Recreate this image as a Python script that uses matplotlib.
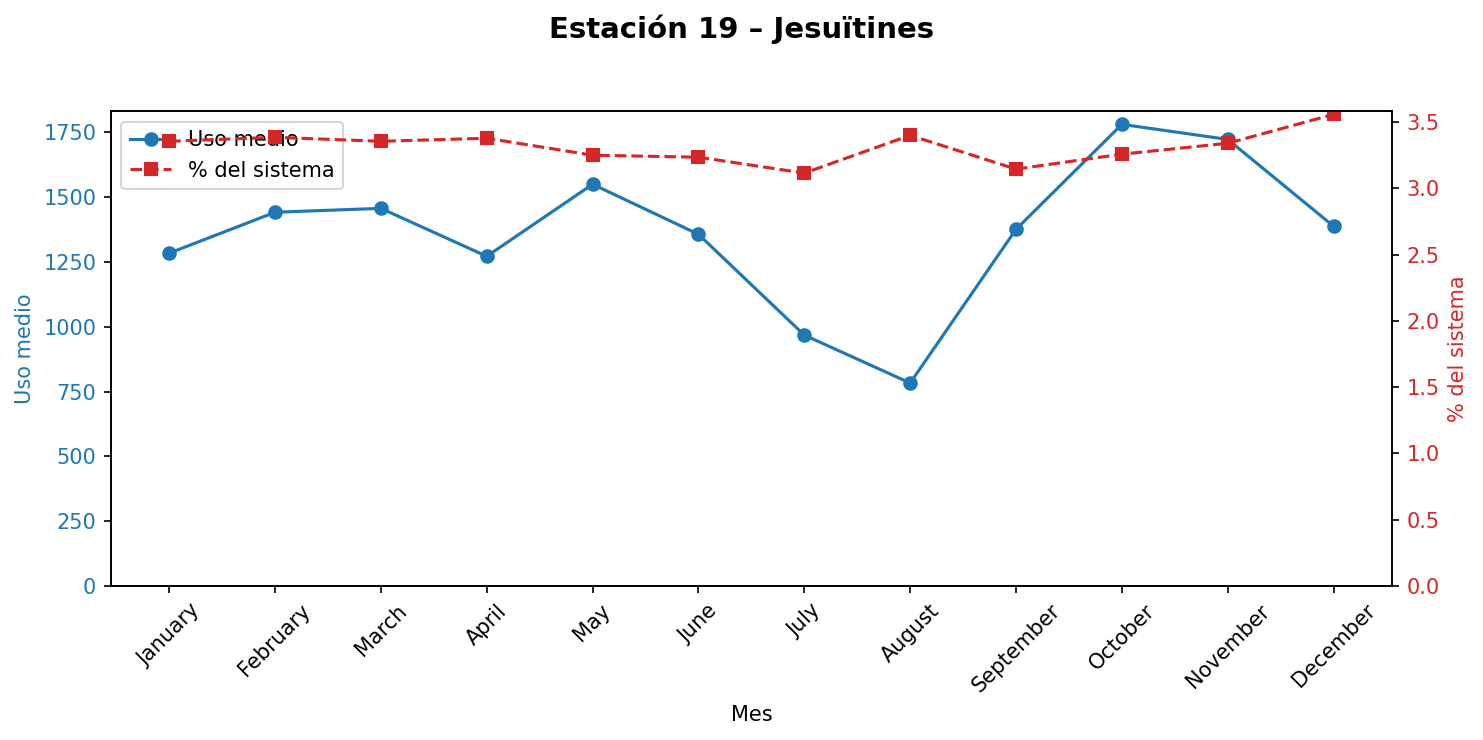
import matplotlib
matplotlib.use("Agg")
import matplotlib.pyplot as plt

# monthly data for station 19
months = ["January", "February", "March", "April", "May", "June",
          "July", "August", "September", "October", "November", "December"]
uso_medio = [1284, 1442, 1457, 1272, 1550, 1357, 968, 783, 1376, 1781, 1723, 1388]
pct_sistema = [3.355, 3.385, 3.355, 3.378, 3.25, 3.235, 3.115, 3.40, 3.145, 3.258, 3.34, 3.558]

BLUE = "#1f77b4"
RED = "#d62728"

fig, ax1 = plt.subplots(figsize=(1483 / 150, 740 / 150), dpi=150)
fig.subplots_adjust(left=0.0748, right=0.9385, top=0.8494, bottom=0.2081)

l1, = ax1.plot(months, uso_medio, marker="o", color=BLUE, label="Uso medio")
ax1.set_ylabel("Uso medio", color=BLUE)
ax1.tick_params(axis="y", labelcolor=BLUE)
ax1.set_xlabel("Mes")
ax1.set_ylim(bottom=0)
ax1.tick_params(axis="x", rotation=45)

ax2 = ax1.twinx()
l2, = ax2.plot(months, pct_sistema, marker="s", linestyle="--", color=RED,
               label="% del sistema")
ax2.set_ylabel("% del sistema", color=RED)
ax2.tick_params(axis="y", labelcolor=RED)
ax2.set_ylim(bottom=0)

ax1.legend([l1, l2], [l1.get_label(), l2.get_label()], loc="upper left")

fig.suptitle("Estación 19 – Jesuïtines", fontsize=14, fontweight="bold")
fig.savefig("out.png", dpi=150)
